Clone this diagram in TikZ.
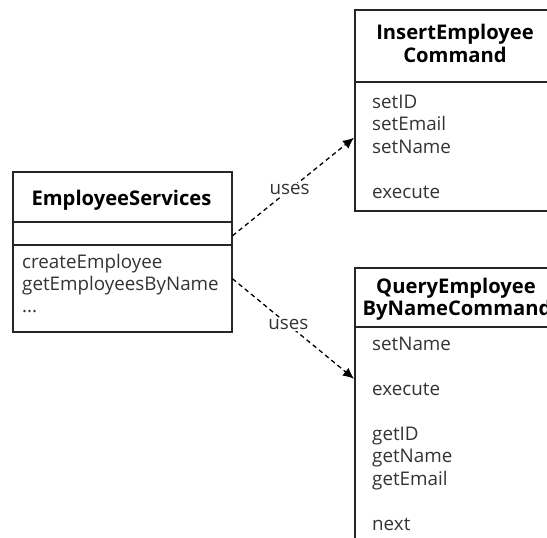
\documentclass[tikz,border=0pt]{standalone}
\usepackage{fontspec}
\setmainfont{Open Sans}
\usetikzlibrary{arrows.meta}
\begin{document}
\begin{tikzpicture}[x=1pt,y=-1pt,
  box/.style={draw=black!85, line width=1.5pt, inner sep=0pt, anchor=north west},
  sep/.style={draw=black!85, line width=1.5pt},
  ttl/.style={font=\fontsize{20.2}{22}\bfseries\selectfont, inner sep=0pt, anchor=base},
  itm/.style={font=\fontsize{18.8}{20}\selectfont, text=black!80, inner sep=0pt, anchor=base west},
  dep/.style={draw=black, line width=1.3pt, dash pattern=on 4.5pt off 3.5pt, -{Latex[length=11pt,width=10pt]}},
  lbl/.style={font=\fontsize{18.8}{20}\selectfont, fill=white, inner sep=1pt, text=black!80}]
\useasboundingbox (0,0) rectangle (547,538);
\clip (0,0) rectangle (547,538);
% EmployeeServices
\node[box, minimum width=219pt, minimum height=160pt] (es) at (12,171) {};
\draw[sep] (12,222) -- (231,222);
\draw[sep] (12,245) -- (231,245);
\node[ttl] (est) at (121.5,205) {EmployeeServices};
\node[itm] (es1) at (22,268) {createEmployee};
\node[itm] (es2) at (22,290.5) {getEmployeesByName};
\node[itm] (es3) at (22,312) {...};
% InsertEmployeeCommand
\node[box, minimum width=202pt, minimum height=201pt] (ins) at (354,9) {};
\draw[sep] (354,82) -- (556,82);
\node[ttl] (inst1) at (455,39) {InsertEmployee};
\node[ttl] (inst2) at (455,63) {Command};
\node[itm] (in1) at (372,108) {setID};
\node[itm] (in2) at (372,130.5) {setEmail};
\node[itm] (in3) at (372,153) {setName};
\node[itm] (in4) at (372,198) {execute};
% QueryEmployeeByNameCommand
\node[box, minimum width=204pt, minimum height=293pt] (qry) at (354,267) {};
\draw[sep] (354,327) -- (558,327);
\node[ttl] (qt1) at (456,293) {QueryEmployee};
\node[ttl] (qt2) at (457,315) {ByNameCommand};
\node[itm] (q1) at (372,350) {setName};
\node[itm] (q2) at (372,395) {execute};
\node[itm] (q3) at (372,440) {getID};
\node[itm] (q4) at (372,462.5) {getName};
\node[itm] (q5) at (372,485) {getEmail};
\node[itm] (q6) at (372,530) {next};
% connectors
\draw[dep] ([yshift=16pt]es.east) -- node[lbl, pos=0.47] (u1) {uses} ([yshift=-27.5pt]ins.west);
\draw[dep] ([yshift=-27pt]es.east) -- node[lbl, pos=0.46] (u2) {uses} ([yshift=35.5pt]qry.west);
\end{tikzpicture}
\end{document}
